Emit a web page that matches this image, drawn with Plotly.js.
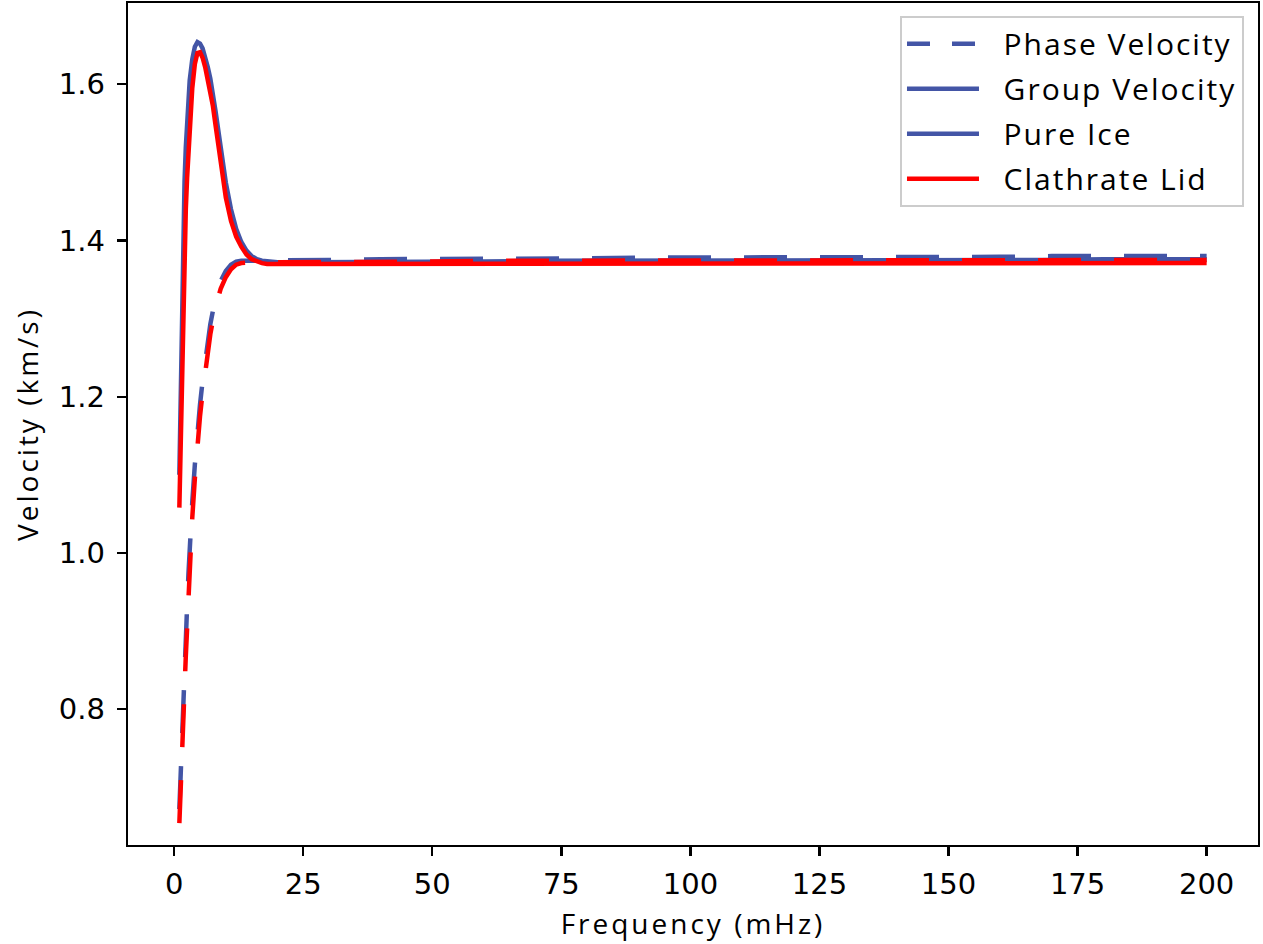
<!DOCTYPE html>
<html>
<head>
<meta charset="utf-8">
<script src="https://cdn.plot.ly/plotly-3.0.1.min.js"></script>
<style>
  html, body { margin: 0; padding: 0; background: #fff; }
  #chart { width: 1263px; height: 944px; }
  .legendtext { letter-spacing: 2px; }
  .xtitle, .ytitle { letter-spacing: 3px; }
</style>
</head>
<body>
<div id="chart"></div>
<script>
// Frequency samples (mHz)
const freq = [1, 1.25, 1.5, 1.75, 2, 2.25, 2.5, 2.75, 3, 3.5, 4, 4.5, 5, 5.5, 6, 6.5, 7, 7.5, 8, 9, 10, 11, 12, 13, 14, 15, 16, 17, 18, 20, 25, 30, 40, 50, 60, 70, 80, 90, 100, 110, 120, 130, 140, 150, 160, 170, 180, 190, 200];

// Pure ice – phase velocity (km/s)
const pureIcePhase = [0.672, 0.710, 0.760, 0.805, 0.848, 0.890, 0.932, 0.972, 1.010, 1.065, 1.113, 1.155, 1.190, 1.220, 1.248, 1.274, 1.293, 1.310, 1.326, 1.348, 1.361, 1.369, 1.373, 1.374, 1.374, 1.374, 1.374, 1.374, 1.374, 1.374, 1.375, 1.375, 1.376, 1.376, 1.377, 1.377, 1.377, 1.378, 1.378, 1.378, 1.379, 1.379, 1.379, 1.379, 1.379, 1.380, 1.380, 1.380, 1.380];

// Pure ice – group velocity (km/s)
const pureIceGroup = [1.100, 1.200, 1.310, 1.400, 1.475, 1.520, 1.550, 1.580, 1.605, 1.632, 1.648, 1.654, 1.652, 1.646, 1.636, 1.622, 1.607, 1.588, 1.566, 1.520, 1.474, 1.440, 1.415, 1.398, 1.387, 1.380, 1.376, 1.374, 1.373, 1.372, 1.372, 1.372, 1.373, 1.373, 1.373, 1.374, 1.374, 1.374, 1.374, 1.374, 1.375, 1.375, 1.375, 1.375, 1.375, 1.375, 1.376, 1.376, 1.376];

// Clathrate lid – phase velocity (km/s)
const clathratePhase = [0.654, 0.690, 0.740, 0.785, 0.826, 0.868, 0.910, 0.950, 0.990, 1.045, 1.095, 1.140, 1.175, 1.205, 1.232, 1.260, 1.280, 1.298, 1.315, 1.338, 1.353, 1.363, 1.369, 1.371, 1.372, 1.372, 1.372, 1.372, 1.372, 1.372, 1.372, 1.373, 1.373, 1.373, 1.374, 1.374, 1.374, 1.374, 1.374, 1.374, 1.374, 1.375, 1.375, 1.375, 1.375, 1.375, 1.375, 1.375, 1.375];

// Clathrate lid – group velocity (km/s)
const clathrateGroup = [1.058, 1.140, 1.240, 1.330, 1.395, 1.440, 1.480, 1.515, 1.545, 1.595, 1.626, 1.640, 1.641, 1.634, 1.622, 1.607, 1.592, 1.572, 1.548, 1.500, 1.455, 1.425, 1.405, 1.392, 1.382, 1.376, 1.373, 1.371, 1.370, 1.370, 1.370, 1.370, 1.370, 1.370, 1.370, 1.370, 1.370, 1.370, 1.371, 1.371, 1.371, 1.371, 1.371, 1.371, 1.371, 1.371, 1.371, 1.371, 1.371];

const legendNames = ["Phase Velocity", "Group Velocity", "Pure Ice", "Clathrate Lid"];
const xTicks = [0, 25, 50, 75, 100, 125, 150, 175, 200];
const yTicks = [0.8, 1.0, 1.2, 1.4, 1.6];
const yTickText = ["0.8", "1.0", "1.2", "1.4", "1.6"];

const BLUE = "#4355A6";
const RED = "#FF0000";
const LW = 4.5;
const DATA_DASH = "43px,33px";
const PAD = "\u00a0\u00a0";

const traces = [
  // legend-only entries
  {x: [null], y: [null], mode: "lines", name: PAD + legendNames[0], legendgroup: "g0",
   line: {color: BLUE, width: LW, dash: "23px,22px"}, hoverinfo: "skip"},
  {x: [null], y: [null], mode: "lines", name: PAD + legendNames[1], legendgroup: "g1",
   line: {color: BLUE, width: LW}, hoverinfo: "skip"},
  {x: [null], y: [null], mode: "lines", name: PAD + legendNames[2], legendgroup: "g2",
   line: {color: BLUE, width: LW}, hoverinfo: "skip"},
  {x: [null], y: [null], mode: "lines", name: PAD + legendNames[3], legendgroup: "g3",
   line: {color: RED, width: LW}, hoverinfo: "skip"},
  // data
  {x: freq, y: pureIcePhase, mode: "lines", showlegend: false,
   line: {color: BLUE, width: LW, dash: DATA_DASH}},
  {x: freq, y: pureIceGroup, mode: "lines", showlegend: false,
   line: {color: BLUE, width: LW}},
  {x: freq, y: clathratePhase, mode: "lines", showlegend: false,
   line: {color: RED, width: LW, dash: DATA_DASH}},
  {x: freq, y: clathrateGroup, mode: "lines", showlegend: false,
   line: {color: RED, width: LW}}
];

const tickFont = {family: "DejaVu Sans", size: 29, color: "#000"};
const titleFont = {family: "Open Sans", size: 28, color: "#000"};

const layout = {
  width: 1263,
  height: 944,
  paper_bgcolor: "#fff",
  plot_bgcolor: "#fff",
  margin: {l: 128, r: 5, t: 3, b: 99, pad: 0},
  showlegend: true,
  xaxis: {
    range: [-8.95, 209.95],
    tickvals: xTicks,
    ticktext: xTicks.map(String),
    ticks: "outside", ticklen: 9, tickwidth: 2.3, tickcolor: "#000",
    showline: true, mirror: true, linewidth: 2.3, linecolor: "#000",
    showgrid: false, zeroline: false,
    tickfont: tickFont,
    ticklabelstandoff: 3,
    title: {text: "Frequency (mHz)", font: titleFont, standoff: 14},
    automargin: false
  },
  yaxis: {
    range: [0.626, 1.704],
    tickvals: yTicks,
    ticktext: yTickText,
    ticks: "outside", ticklen: 9, tickwidth: 2.3, tickcolor: "#000",
    showline: true, mirror: true, linewidth: 2.3, linecolor: "#000",
    showgrid: false, zeroline: false,
    tickfont: tickFont,
    ticklabelstandoff: 6,
    title: {text: "Velocity (km/s)", font: titleFont, standoff: 12},
    automargin: false
  },
  legend: {
    x: 0.9876, y: 0.985, xanchor: "right", yanchor: "top",
    bgcolor: "rgba(255,255,255,0.8)",
    bordercolor: "#cccccc", borderwidth: 2,
    font: {family: "Open Sans", size: 30, color: "#000"},
    itemwidth: 72,
    tracegroupgap: 3,
    traceorder: "grouped"
  }
};

Plotly.newPlot("chart", traces, layout, {displayModeBar: false, staticPlot: true});
</script>
</body>
</html>
